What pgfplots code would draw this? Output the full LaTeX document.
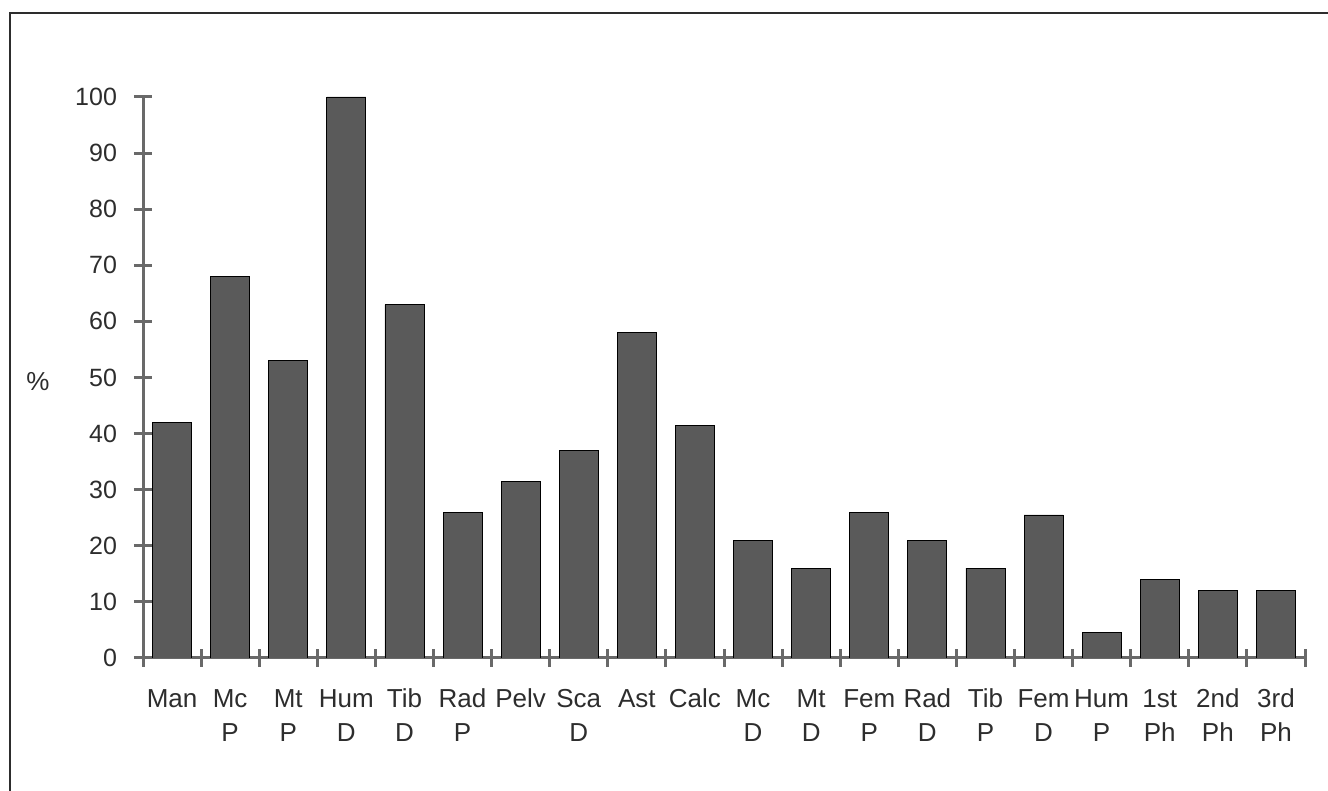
\documentclass[border=0pt]{standalone}
\usepackage{fontspec}
\setmainfont{Liberation Sans}
\usepackage{pgfplots}
\pgfplotsset{compat=1.18}
\definecolor{barfill}{RGB}{90,90,90}
\definecolor{axisgray}{RGB}{105,105,105}
\definecolor{txt}{RGB}{45,45,45}
\newcommand{\lab}[2]{\strut#1\\\strut#2}
\begin{document}
\begin{tikzpicture}
\useasboundingbox (0,0) rectangle (664pt,395.5pt);
\draw[line width=1pt, txt] (5pt,0) -- (5pt,389pt) -- (664pt,389pt);
\node[txt, font=\fontsize{13}{15}\selectfont] at (19pt,204.5pt) {\%};
\begin{axis}[
  at={(71.5pt,66.5pt)}, anchor=south west,
  scale only axis, width=581pt, height=280.5pt,
  xmin=-0.5, xmax=19.5, ymin=0, ymax=100,
  axis x line*=bottom, axis y line*=left,
  axis line style={axisgray, line width=1.5pt},
  ytick={0,10,...,100},
  xtick={-0.5,0.5,...,19.5},
  x tick label as interval,
  xticklabels={\lab{Man}{}, \lab{Mc}{P}, \lab{Mt}{P}, \lab{Hum}{D}, \lab{Tib}{D},
    \lab{Rad}{P}, \lab{Pelv}{}, \lab{Sca}{D}, \lab{Ast}{}, \lab{Calc}{},
    \lab{Mc}{D}, \lab{Mt}{D}, \lab{Fem}{P}, \lab{Rad}{D}, \lab{Tib}{P},
    \lab{Fem}{D}, \lab{Hum}{P}, \lab{1st}{Ph}, \lab{2nd}{Ph}, \lab{3rd}{Ph}},
  tick align=center,
  major tick length=9pt,
  tick style={axisgray, line width=1.5pt},
  xticklabel style={txt, font=\fontsize{13}{17}\selectfont, align=center, anchor=north, yshift=-5pt},
  yticklabel style={txt, font=\fontsize{12.5}{15}\selectfont, xshift=-5pt},
  /pgf/number format/assume math mode=true,
]
\addplot[ybar, bar width=0.67, fill=barfill, draw=black, line width=0.4pt] coordinates {
  (0,42) (1,68) (2,53) (3,100) (4,63) (5,26) (6,31.5) (7,37) (8,58) (9,41.5)
  (10,21) (11,16) (12,26) (13,21) (14,16) (15,25.5) (16,4.5) (17,14) (18,12) (19,12)
};
\end{axis}
\end{tikzpicture}
\end{document}
